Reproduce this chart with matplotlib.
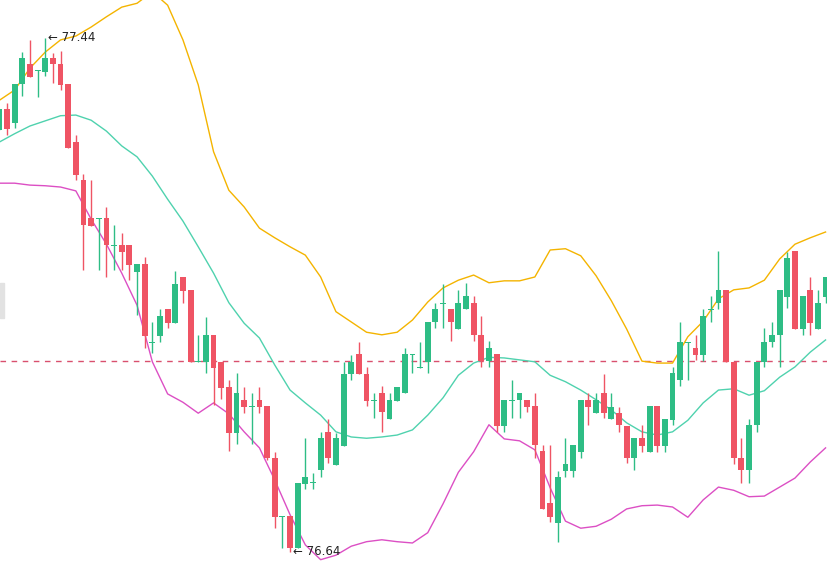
import numpy as np
import matplotlib
matplotlib.use("Agg")
import matplotlib.pyplot as plt
from matplotlib.patches import Rectangle

# candle data (open, high, low, close)
opens = [77.297, 77.329, 77.308, 77.368, 77.400, 77.389, 77.387, 77.409, 77.400, 77.368,
         77.278, 77.219, 77.160, 77.158, 77.160, 77.116, 77.118, 77.118, 77.076, 77.088,
         76.965, 76.976, 77.018, 76.996, 77.068, 77.048, 76.936, 76.936, 76.978, 76.936,
         76.897, 76.825, 76.877, 76.866, 76.877, 76.867, 76.786, 76.694, 76.696, 76.646,
         76.746, 76.747, 76.768, 76.827, 76.775, 76.805, 76.917, 76.948, 76.917, 76.875,
         76.887, 76.847, 76.875, 76.887, 76.947, 76.926, 76.936, 76.998, 77.026, 77.018,
         76.987, 77.018, 77.028, 76.978, 76.937, 76.948, 76.836, 76.875, 76.877, 76.877,
         76.867, 76.797, 76.716, 76.685, 76.766, 76.766, 76.795, 76.877, 76.856, 76.887,
         76.847, 76.856, 76.836, 76.786, 76.817, 76.795, 76.867, 76.805, 76.845, 76.908,
         76.965, 76.958, 76.947, 77.016, 77.028, 77.048, 76.936, 76.786, 76.768, 76.838,
         76.936, 76.967, 76.978, 77.037, 77.109, 76.987, 77.048, 76.987, 77.037]
highs = [77.329, 77.339, 77.368, 77.418, 77.437, 77.390, 77.440, 77.417, 77.420, 77.368,
         77.289, 77.228, 77.219, 77.160, 77.177, 77.149, 77.136, 77.118, 77.088, 77.099,
         76.998, 77.018, 77.018, 77.077, 77.068, 77.048, 76.978, 77.006, 76.978, 76.936,
         76.908, 76.919, 76.897, 76.887, 76.897, 76.867, 76.795, 76.696, 76.696, 76.747,
         76.817, 76.763, 76.827, 76.847, 76.825, 76.936, 76.947, 76.967, 76.928, 76.887,
         76.898, 76.887, 76.897, 76.958, 76.948, 76.967, 76.998, 77.028, 77.057, 77.018,
         77.048, 77.059, 77.038, 77.007, 76.968, 76.948, 76.877, 76.908, 76.887, 76.877,
         76.887, 76.806, 76.806, 76.766, 76.817, 76.806, 76.877, 76.887, 76.887, 76.917,
         76.887, 76.866, 76.836, 76.817, 76.838, 76.867, 76.867, 76.847, 76.928, 76.998,
         76.967, 76.978, 77.018, 77.038, 77.109, 77.048, 76.936, 76.817, 76.847, 76.936,
         76.989, 76.998, 77.048, 77.107, 77.109, 77.038, 77.068, 77.048, 77.068]
lows = [77.297, 77.289, 77.300, 77.350, 77.379, 77.348, 77.381, 77.370, 77.359, 77.269,
        77.219, 77.079, 77.147, 77.079, 77.068, 77.079, 77.079, 77.063, 77.009, 76.958,
        76.950, 76.967, 76.989, 76.996, 77.028, 76.936, 76.936, 76.919, 76.869, 76.878,
        76.797, 76.808, 76.856, 76.808, 76.856, 76.783, 76.677, 76.646, 76.640, 76.646,
        76.738, 76.738, 76.757, 76.778, 76.775, 76.805, 76.908, 76.917, 76.867, 76.849,
        76.827, 76.847, 76.875, 76.887, 76.919, 76.926, 76.919, 76.989, 76.989, 76.968,
        76.987, 77.018, 76.968, 76.928, 76.928, 76.827, 76.827, 76.849, 76.849, 76.858,
        76.787, 76.707, 76.687, 76.656, 76.757, 76.757, 76.787, 76.838, 76.856, 76.849,
        76.847, 76.827, 76.778, 76.768, 76.795, 76.795, 76.795, 76.795, 76.838, 76.898,
        76.908, 76.939, 76.937, 76.998, 77.018, 76.936, 76.777, 76.747, 76.747, 76.827,
        76.928, 76.959, 76.928, 77.020, 76.987, 76.978, 76.978, 76.987, 77.028]
closes = [77.329, 77.298, 77.368, 77.409, 77.379, 77.390, 77.409, 77.400, 77.367, 77.269,
          77.227, 77.149, 77.147, 77.160, 77.118, 77.118, 77.107, 77.087, 77.088, 76.976,
          76.967, 77.007, 76.996, 77.057, 77.046, 76.936, 76.937, 76.978, 76.926, 76.895,
          76.825, 76.887, 76.866, 76.867, 76.866, 76.786, 76.694, 76.696, 76.646, 76.747,
          76.757, 76.749, 76.817, 76.786, 76.817, 76.917, 76.936, 76.917, 76.875, 76.877,
          76.858, 76.877, 76.897, 76.948, 76.948, 76.928, 76.998, 77.018, 77.028, 76.998,
          77.028, 77.038, 76.978, 76.937, 76.958, 76.836, 76.877, 76.877, 76.887, 76.866,
          76.806, 76.707, 76.694, 76.757, 76.777, 76.806, 76.877, 76.866, 76.877, 76.856,
          76.866, 76.838, 76.786, 76.817, 76.805, 76.867, 76.805, 76.847, 76.919, 76.967,
          76.967, 76.947, 77.007, 77.018, 77.048, 76.936, 76.786, 76.768, 76.838, 76.936,
          76.967, 76.978, 77.048, 77.098, 76.987, 77.038, 76.996, 77.028, 77.068]

# Bollinger bands, read every second candle
boll_upper = [77.343, 77.359, 77.393, 77.418, 77.437, 77.443, 77.457, 77.473, 77.488, 77.494,
              77.512, 77.491, 77.437, 77.367, 77.263, 77.203, 77.177, 77.144, 77.129, 77.115,
              77.102, 77.068, 77.014, 76.998, 76.982, 76.978, 76.982, 77.001, 77.029, 77.051,
              77.063, 77.071, 77.059, 77.062, 77.062, 77.068, 77.110, 77.112, 77.101, 77.070,
              77.031, 76.987, 76.937, 76.934, 76.934, 76.975, 76.999, 77.034, 77.048, 77.051,
              77.063, 77.096, 77.119, 77.129, 77.138]
boll_mid = [77.278, 77.291, 77.303, 77.311, 77.319, 77.320, 77.312, 77.295, 77.272, 77.255,
            77.225, 77.189, 77.155, 77.115, 77.074, 77.028, 76.996, 76.973, 76.931, 76.892,
            76.872, 76.853, 76.827, 76.819, 76.817, 76.819, 76.822, 76.830, 76.853, 76.880,
            76.915, 76.934, 76.943, 76.942, 76.939, 76.936, 76.915, 76.905, 76.892, 76.877,
            76.861, 76.841, 76.827, 76.822, 76.827, 76.845, 76.872, 76.892, 76.894, 76.884,
            76.891, 76.912, 76.928, 76.951, 76.970]
boll_lower = [77.214, 77.214, 77.211, 77.210, 77.208, 77.202, 77.158, 77.119, 77.074, 77.024,
              76.936, 76.886, 76.873, 76.856, 76.872, 76.855, 76.827, 76.802, 76.752, 76.698,
              76.651, 76.628, 76.635, 76.649, 76.656, 76.659, 76.656, 76.654, 76.670, 76.715,
              76.764, 76.796, 76.838, 76.816, 76.813, 76.799, 76.740, 76.688, 76.677, 76.680,
              76.691, 76.707, 76.712, 76.713, 76.710, 76.694, 76.721, 76.741, 76.736, 76.726,
              76.727, 76.741, 76.755, 76.780, 76.802]

ref_price = 76.937
hi_label = "← 77.44"
lo_label = "← 76.64"

UP = "#2ebd85"
DOWN = "#ef5464"

fig = plt.figure(figsize=(8.28, 5.78), dpi=100)
ax = fig.add_axes([0, 0, 1, 1])
ax.axis("off")

o = np.array(opens)
h = np.array(highs)
l = np.array(lows)
c = np.array(closes)
x = np.arange(len(o))
cols = np.where(c >= o, UP, DOWN)

ax.vlines(x, l, h, colors=cols, lw=1.0, zorder=3)
body = np.maximum(np.abs(c - o), 0.0014)
ax.bar(x, body, bottom=np.minimum(o, c), width=0.76, color=cols, zorder=4)

bx = np.arange(0, len(o), 2)
for vals, col in [(boll_upper, "#f4b400"), (boll_mid, "#4fd2ae"), (boll_lower, "#dc4fc4")]:
    ax.plot(bx, vals, color=col, lw=1.0, zorder=2, solid_joinstyle="round")

ax.axhline(ref_price, color="#d9506e", lw=1.0, ls=(0, (4, 4)), zorder=1)

imax = int(np.argmax(h))
imin = int(np.argmin(l))
ax.annotate(hi_label, xy=(imax, h[imax]), xytext=(2, 0), textcoords="offset points",
            va="center", ha="left", fontsize=8.5, color="#222222")
ax.annotate(lo_label, xy=(imin, l[imin]), xytext=(2, 0), textcoords="offset points",
            va="center", ha="left", fontsize=8.5, color="#222222")

ax.set_xlim(0.085, 108.32)
ax.set_ylim(76.5995, 77.4991)

# small grey handle at the left edge
fig.patches.append(Rectangle((0, 1 - 318 / 578), 4 / 828, 35 / 578,
                             transform=fig.transFigure, color="#e2e2e2", zorder=0))

fig.savefig("out.png", dpi=100)
